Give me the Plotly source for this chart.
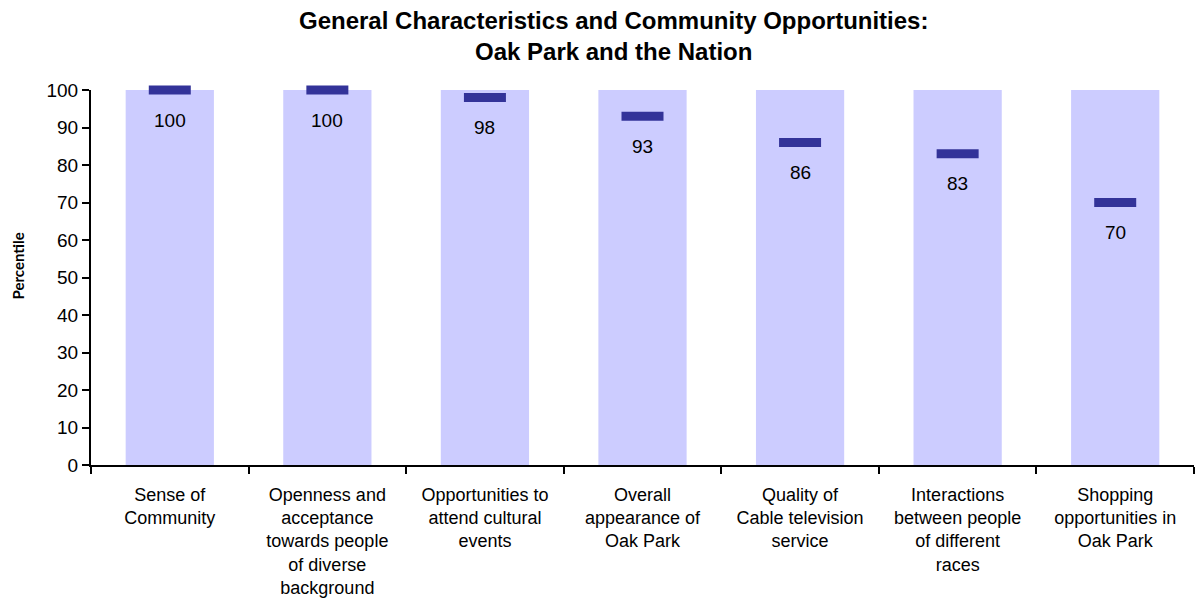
import plotly.graph_objects as go

# Survey items and Oak Park's percentile rank against the nation
categories = [
    "Sense of<br>Community",
    "Openness and<br>acceptance<br>towards people<br>of diverse<br>background",
    "Opportunities to<br>attend cultural<br>events",
    "Overall<br>appearance of<br>Oak Park",
    "Quality of<br>Cable television<br>service",
    "Interactions<br>between people<br>of different<br>races",
    "Shopping<br>opportunities in<br>Oak Park",
]
percentiles = [100, 100, 98, 93, 86, 83, 70]
scale_max = [100] * len(categories)

BAR_COLOR = "#CCCCFF"
MARK_COLOR = "#333399"
FONT = "Liberation Sans, Arial, sans-serif"

fig = go.Figure()

# Full-scale background columns (0-100)
fig.add_trace(go.Bar(
    x=categories, y=scale_max,
    width=0.56,
    marker=dict(color=BAR_COLOR, line=dict(width=0)),
    hoverinfo="skip",
    showlegend=False,
))

# Percentile markers
fig.add_trace(go.Scatter(
    x=categories, y=percentiles,
    mode="markers",
    cliponaxis=False,
    marker=dict(symbol="line-ew-open", size=30, color=MARK_COLOR,
                line=dict(color=MARK_COLOR, width=9)),
    showlegend=False,
))

# Value labels below each marker
for cat, val in zip(categories, percentiles):
    fig.add_annotation(
        x=cat, y=val, text=str(val), showarrow=False,
        yshift=-30, font=dict(family=FONT, size=19, color="black"),
    )

# Chart title
fig.add_annotation(
    xref="paper", yref="paper", x=0.474, y=1.061,
    xanchor="center", yanchor="bottom",
    text="<b>General Characteristics and Community Opportunities:<br>Oak Park and the Nation</b>",
    showarrow=False,
    font=dict(family=FONT, size=24, color="black"),
)

# Y-axis title
fig.add_annotation(
    xref="paper", yref="paper", x=-0.066, y=0.53,
    xanchor="center", yanchor="middle",
    text="<b>Percentile</b>", textangle=-90, showarrow=False,
    font=dict(family="Lato, sans-serif", size=15, color="black"),
)

fig.update_layout(
    width=1197, height=611,
    paper_bgcolor="white", plot_bgcolor="white",
    margin=dict(l=91, r=3, t=90, b=146),
    font=dict(family=FONT, size=18, color="black"),
)

fig.update_xaxes(
    type="category",
    tickson="boundaries",
    ticks="outside", ticklen=7, tickwidth=2, tickcolor="black",
    showline=True, linecolor="black", linewidth=2,
    showgrid=False,
    ticklabelstandoff=12,
    tickfont=dict(family=FONT, size=18, color="black"),
    tickangle=0,
)

fig.update_yaxes(
    range=[0, 100], dtick=10,
    ticks="outside", ticklen=7, tickwidth=2, tickcolor="black",
    showline=True, linecolor="black", linewidth=2,
    showgrid=False, zeroline=False,
    tickfont=dict(family=FONT, size=19, color="black"),
)

fig.write_html("out.html")
